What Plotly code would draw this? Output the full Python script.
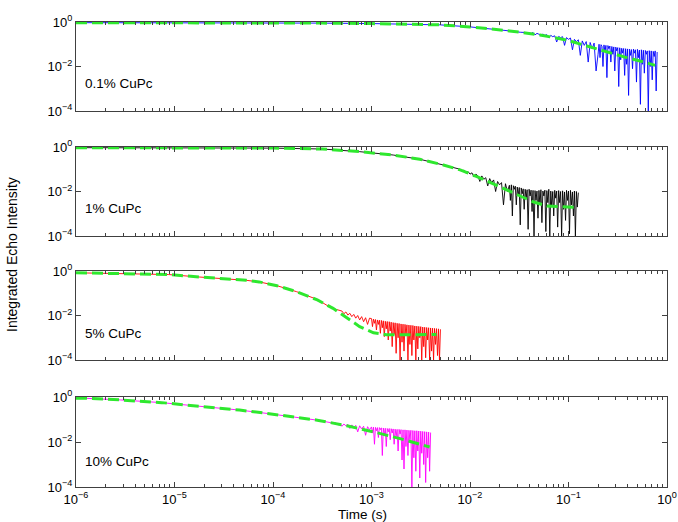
import numpy as np
import plotly.graph_objects as go

# ---------------- data (log10 units) ----------------
# Panel 1: 0.1% CuPc (blue)
blue_logt = [-6.0, -5.0, -4.0, -3.5, -3.0, -2.7, -2.3, -2.0, -1.8, -1.6, -1.49,
             -1.40, -1.38, -1.36, -1.34, -1.32, -1.30, -1.28, -1.26, -1.24, -1.22,
             -1.20, -1.18, -1.16, -1.14, -1.12, -1.10, -1.08, -1.06, -1.04, -1.02,
             -1.00, -0.98, -0.96, -0.94, -0.92, -0.90, -0.88, -0.86, -0.84, -0.82,
             -0.80, -0.78, -0.76, -0.74, -0.72,
             -0.70, -0.69, -0.68, -0.67, -0.66, -0.65, -0.64, -0.63, -0.62, -0.61,
             -0.60, -0.59, -0.58, -0.57, -0.56, -0.55, -0.54, -0.53, -0.52, -0.51,
             -0.50, -0.49, -0.48, -0.47, -0.46, -0.45, -0.44, -0.43, -0.42, -0.41,
             -0.40, -0.39, -0.38, -0.37, -0.36, -0.35, -0.34, -0.33, -0.32, -0.31,
             -0.30, -0.29, -0.28, -0.27, -0.26, -0.25, -0.24, -0.23, -0.22, -0.21,
             -0.20, -0.19, -0.18, -0.17, -0.16, -0.15, -0.14, -0.13, -0.12, -0.11,
             -0.10]
blue_logv = [-0.03, -0.03, -0.04, -0.05, -0.07, -0.09, -0.13, -0.22, -0.30, -0.40, -0.46,
             -0.48, -0.52, -0.47, -0.58, -0.51, -0.55, -0.62, -0.54, -0.60, -0.57,
             -0.72, -0.60, -0.66, -0.62, -0.90, -0.65, -0.70, -0.66, -1.05, -0.70,
             -0.78, -0.72, -1.25, -0.78, -0.88, -0.80, -1.50, -0.85, -1.05, -0.88,
             -1.80, -0.92, -1.20, -0.95, -2.20,
             -1.45, -1.00, -1.60, -1.02, -1.10, -2.00, -1.03, -1.35, -1.05, -2.50,
             -1.06, -1.20, -1.08, -1.80, -1.10, -1.45, -1.12, -2.20, -1.13, -1.30,
             -1.15, -2.90, -1.16, -1.70, -1.18, -1.40, -1.19, -2.40, -1.20, -1.90,
             -1.21, -3.30, -1.22, -1.50, -1.24, -2.10, -1.22, -1.40, -1.25, -2.70,
             -1.23, -1.60, -1.26, -3.70, -1.25, -1.90, -1.27, -2.30, -1.28, -1.45,
             -1.30, -4.00, -1.29, -2.00, -1.30, -2.60, -1.32, -1.55, -1.30, -3.10,
             -1.35]
blue_fit_logt = [-6.0, -5.0, -4.0, -3.5, -3.0, -2.7, -2.3, -2.0, -1.8, -1.6, -1.49,
                 -1.29, -1.02, -0.81, -0.61, -0.41, -0.20, -0.12]
blue_fit_logv = [-0.03, -0.03, -0.04, -0.05, -0.07, -0.09, -0.13, -0.22, -0.30, -0.40, -0.46,
                 -0.58, -0.81, -1.08, -1.36, -1.60, -1.84, -1.95]

# Panel 2: 1% CuPc (black)
black_logt = [-6.0, -5.0, -4.0, -3.5, -3.12, -2.78, -2.51, -2.27,
              -2.10, -2.08, -2.06, -2.04, -2.02, -2.00, -1.98, -1.96, -1.94, -1.92,
              -1.90, -1.88, -1.86, -1.84, -1.82, -1.80, -1.78, -1.76, -1.74, -1.72,
              -1.70, -1.68, -1.66, -1.64, -1.62,
              -1.60, -1.59, -1.58, -1.57, -1.56, -1.55, -1.54, -1.53, -1.52, -1.51,
              -1.50, -1.49, -1.48, -1.47, -1.46, -1.45, -1.44, -1.43, -1.42, -1.41,
              -1.40, -1.39, -1.38, -1.37, -1.36, -1.35, -1.34, -1.33, -1.32, -1.31,
              -1.30, -1.29, -1.28, -1.27, -1.26, -1.25, -1.24, -1.23, -1.22, -1.21,
              -1.20, -1.19, -1.18, -1.17, -1.16, -1.15, -1.14, -1.13, -1.12, -1.11,
              -1.10, -1.09, -1.08, -1.07, -1.06, -1.05, -1.04, -1.03, -1.02, -1.01,
              -1.00, -0.99, -0.98, -0.97, -0.96, -0.95, -0.94, -0.93, -0.92, -0.91,
              -0.90]
black_logv = [-0.03, -0.03, -0.05, -0.09, -0.21, -0.36, -0.55, -0.81,
              -1.00, -1.08, -1.04, -1.18, -1.10, -1.22, -1.16, -1.35, -1.22, -1.30,
              -1.55, -1.30, -1.45, -1.38, -1.75, -1.42, -1.60, -1.48, -2.00, -1.55,
              -1.70, -1.60, -2.60, -1.65, -2.00,
              -1.72, -2.40, -1.70, -3.10, -1.74, -1.90, -1.76, -2.60, -1.80, -2.20,
              -1.82, -3.50, -1.84, -2.10, -1.88, -2.80, -1.90, -2.30, -1.92, -3.70,
              -1.90, -2.20, -1.94, -2.90, -1.95, -4.00, -1.96, -2.40, -1.98, -3.20,
              -1.95, -2.60, -1.92, -3.40, -1.98, -2.20, -1.94, -3.80, -1.96, -2.50,
              -1.90, -4.00, -1.98, -2.70, -2.00, -3.10, -1.95, -2.30, -1.98, -3.60,
              -1.96, -2.50, -2.00, -4.00, -1.97, -2.80, -2.02, -3.30, -1.95, -2.40,
              -1.98, -3.90, -1.95, -2.60, -2.02, -3.10, -1.98, -4.00, -2.00, -2.70,
              -2.05]
black_fit_logt = [-6.0, -5.0, -4.0, -3.5, -3.12, -2.78, -2.51, -2.27, -2.10, -1.93,
                  -1.70, -1.52, -1.36, -1.22, -1.02, -0.91]
black_fit_logv = [-0.03, -0.03, -0.05, -0.09, -0.21, -0.36, -0.55, -0.81, -1.03, -1.33,
                  -1.78, -2.16, -2.46, -2.65, -2.68, -2.71]

# Panel 3: 5% CuPc (red)
red_logt = [-6.0, -5.06, -4.75, -4.48, -4.27, -4.14, -3.96, -3.76, -3.55, -3.45, -3.38,
            -3.30, -3.28, -3.26, -3.24, -3.22, -3.20, -3.18, -3.16, -3.14, -3.12,
            -3.10, -3.08, -3.06, -3.04, -3.02,
            -3.00, -2.99, -2.98, -2.97, -2.96, -2.95, -2.94, -2.93, -2.92, -2.91,
            -2.90, -2.89, -2.88, -2.87, -2.86, -2.85, -2.84, -2.83, -2.82, -2.81,
            -2.80, -2.79, -2.78, -2.77, -2.76, -2.75, -2.74, -2.73, -2.72, -2.71,
            -2.70, -2.69, -2.68, -2.67, -2.66, -2.65, -2.64, -2.63, -2.62, -2.61,
            -2.60, -2.59, -2.58, -2.57, -2.56, -2.55, -2.54, -2.53, -2.52, -2.51,
            -2.50, -2.49, -2.48, -2.47, -2.46, -2.45, -2.44, -2.43, -2.42, -2.41,
            -2.40, -2.39, -2.38, -2.37, -2.36, -2.35, -2.34, -2.33, -2.32, -2.31,
            -2.30]
red_logv = [-0.08, -0.16, -0.27, -0.34, -0.42, -0.49, -0.66, -0.93, -1.28, -1.55, -1.70,
            -1.80, -1.92, -1.84, -1.98, -1.90, -2.05, -1.95, -2.12, -2.00, -2.20,
            -2.05, -2.28, -2.10, -2.40, -2.12,
            -2.14, -2.50, -2.16, -2.35, -2.18, -2.65, -2.20, -2.40, -2.21, -2.80,
            -2.22, -2.55, -2.24, -2.95, -2.26, -2.60, -2.27, -3.10, -2.28, -2.70,
            -2.30, -3.40, -2.32, -2.85, -2.33, -3.70, -2.35, -3.00, -2.36, -4.00,
            -2.38, -3.20, -2.39, -3.60, -2.40, -2.90, -2.42, -4.00, -2.43, -3.30,
            -2.44, -3.80, -2.45, -3.10, -2.47, -4.00, -2.48, -3.50, -2.49, -3.00,
            -2.50, -4.00, -2.52, -3.40, -2.53, -3.90, -2.54, -3.10, -2.55, -4.00,
            -2.56, -3.60, -2.57, -4.00, -2.58, -3.30, -2.59, -3.80, -2.60, -4.00,
            -2.62]
red_fit_logt = [-6.0, -5.06, -4.75, -4.48, -4.27, -4.14, -3.96, -3.76, -3.55, -3.39,
                -3.25, -3.12, -2.98, -2.85, -2.70, -2.50, -2.34]
red_fit_logv = [-0.08, -0.16, -0.27, -0.34, -0.42, -0.49, -0.66, -0.93, -1.30, -1.68,
                -2.12, -2.50, -2.78, -2.86, -2.87, -2.87, -2.85]

# Panel 4: 10% CuPc (magenta)
mag_logt = [-6.0, -5.89, -5.55, -5.28, -5.13, -4.87, -4.61, -4.34, -4.06, -3.80, -3.55, -3.39,
            -3.36, -3.34, -3.32, -3.30, -3.28, -3.26, -3.24, -3.22, -3.20, -3.18,
            -3.16, -3.14, -3.12, -3.10, -3.08, -3.06, -3.04, -3.02, -3.00,
            -2.99, -2.98, -2.97, -2.96, -2.95, -2.94, -2.93, -2.92, -2.91, -2.90,
            -2.89, -2.88, -2.87, -2.86, -2.85, -2.84, -2.83, -2.82, -2.81, -2.80,
            -2.79, -2.78, -2.77, -2.76, -2.75, -2.74, -2.73, -2.72, -2.71, -2.70,
            -2.69, -2.68, -2.67, -2.66, -2.65, -2.64, -2.63, -2.62, -2.61, -2.60,
            -2.59, -2.58, -2.57, -2.56, -2.55, -2.54, -2.53, -2.52, -2.51, -2.50,
            -2.49, -2.48, -2.47, -2.46, -2.45, -2.44, -2.43, -2.42, -2.41, -2.40]
mag_logv = [-0.06, -0.06, -0.13, -0.19, -0.25, -0.36, -0.46, -0.58, -0.73, -0.88, -1.03, -1.16,
            -1.15, -1.25, -1.17, -1.30, -1.20, -1.28, -1.22, -1.40, -1.24, -1.35,
            -1.26, -1.55, -1.28, -1.42, -1.30, -1.70, -1.32, -1.45, -1.33,
            -1.60, -1.34, -2.10, -1.35, -1.50, -1.36, -1.80, -1.36, -1.45, -1.37,
            -2.60, -1.38, -1.70, -1.39, -2.20, -1.40, -1.55, -1.40, -1.90, -1.41,
            -1.60, -1.42, -2.10, -1.43, -1.75, -1.44, -2.40, -1.44, -1.65, -1.45,
            -2.80, -1.46, -3.20, -1.46, -2.20, -1.47, -2.60, -1.48, -1.90, -1.48,
            -4.00, -1.49, -2.70, -1.50, -3.30, -1.50, -2.40, -1.51, -3.60, -1.52,
            -2.50, -1.53, -3.00, -1.54, -3.80, -1.55, -2.70, -1.56, -3.30, -1.58]
mag_fit_logt = [-6.0, -5.89, -5.55, -5.28, -5.13, -4.87, -4.61, -4.34, -4.06, -3.80,
                -3.55, -3.39, -3.25, -2.98, -2.71, -2.41]
mag_fit_logv = [-0.06, -0.06, -0.13, -0.19, -0.25, -0.36, -0.46, -0.58, -0.73, -0.88,
                -1.03, -1.16, -1.28, -1.55, -1.85, -2.22]

panel_labels = ["0.1% CuPc", "1% CuPc", "5% CuPc", "10% CuPc"]
data_colors = ["#0000ff", "#000000", "#ff0000", "#ff00ff"]
fit_color = "#2ee82e"

x_tickvals = [1e-6, 1e-5, 1e-4, 1e-3, 1e-2, 1e-1, 1e0]
x_ticktext = ["10<sup>−6</sup>", "10<sup>−5</sup>", "10<sup>−4</sup>", "10<sup>−3</sup>",
              "10<sup>−2</sup>", "10<sup>−1</sup>", "10<sup>0</sup>"]
y_tickvals = [1e0, 1e-2, 1e-4]
y_ticktext = ["10<sup>0</sup>", "10<sup>−2</sup>", "10<sup>−4</sup>"]

x_title = "Time (s)"
y_title = "Integrated Echo Intensity"

# ---------------- figure ----------------
series = [
    (blue_logt, blue_logv, blue_fit_logt, blue_fit_logv),
    (black_logt, black_logv, black_fit_logt, black_fit_logv),
    (red_logt, red_logv, red_fit_logt, red_fit_logv),
    (mag_logt, mag_logv, mag_fit_logt, mag_fit_logv),
]

W, H = 678, 522
ML, MR, MT, MB = 76, 11, 22, 35
ph = H - MT - MB
panel_px = [(22, 111), (147, 236), (271, 360), (397, 487)]
label_px_y = [84, 209, 333, 461]

def py(p):
    return 1 - (p - MT) / ph

minor_vals = [m * 10.0 ** e for e in range(-6, 0) for m in range(2, 10)]
axis_col = "#404040"
FONT = "Liberation Sans, Arial, sans-serif"
tick_font = dict(family=FONT, size=13, color="black")

fig = go.Figure()
layout = dict(
    width=W, height=H,
    margin=dict(l=ML, r=MR, t=MT, b=MB, autoexpand=False),
    paper_bgcolor="white", plot_bgcolor="white",
    showlegend=False,
    font=dict(family=FONT, size=13, color="black"),
)

annotations = []
for i, (lt, lv, ft, fv) in enumerate(series):
    xa = "x" if i == 0 else f"x{i+1}"
    ya = "y" if i == 0 else f"y{i+1}"
    fig.add_trace(go.Scatter(
        x=np.power(10.0, lt), y=np.power(10.0, lv), mode="lines",
        line=dict(color=data_colors[i], width=0.9), xaxis=xa, yaxis=ya))
    fig.add_trace(go.Scatter(
        x=np.power(10.0, ft), y=np.power(10.0, fv), mode="lines",
        line=dict(color=fit_color, width=3, dash="11px,5px"), xaxis=xa, yaxis=ya))
    top, bot = panel_px[i]
    xk = "xaxis" if i == 0 else f"xaxis{i+1}"
    yk = "yaxis" if i == 0 else f"yaxis{i+1}"
    layout[xk] = dict(
        type="log", range=[-6, 0], domain=[0, 1], anchor=ya, automargin=False,
        tickmode="array", tickvals=x_tickvals, ticktext=x_ticktext,
        showticklabels=(i == 3), tickfont=tick_font, ticklabeloverflow="allow",
        ticks="inside", ticklen=5, tickcolor=axis_col, tickwidth=1,
        minor=dict(tickmode="array", tickvals=minor_vals, ticks="inside",
                   ticklen=3, tickcolor=axis_col, tickwidth=1, showgrid=False),
        showline=True, linecolor=axis_col, linewidth=1, mirror="ticks",
        showgrid=False, zeroline=False,
    )
    layout[yk] = dict(
        type="log", range=[-4, 0], domain=[py(bot), py(top)], anchor=xa, automargin=False,
        tickmode="array", tickvals=y_tickvals, ticktext=y_ticktext,
        tickfont=tick_font, ticklabeloverflow="allow",
        ticks="inside", ticklen=5, tickcolor=axis_col, tickwidth=1,
        showline=True, linecolor=axis_col, linewidth=1, mirror="ticks",
        showgrid=False, zeroline=False,
    )
    annotations.append(dict(
        text=panel_labels[i], xref="paper", yref="paper",
        x=(83 - ML) / (W - ML - MR), y=py(label_px_y[i]),
        xanchor="left", yanchor="middle", showarrow=False,
        font=dict(family=FONT, size=13.5, color="black")))

annotations.append(dict(
    text=x_title, xref="paper", yref="paper",
    x=(362 - ML) / (W - ML - MR), y=py(514), xanchor="center", yanchor="middle",
    showarrow=False, font=dict(family=FONT, size=13.5, color="black")))
annotations.append(dict(
    text=y_title, xref="paper", yref="paper", textangle=-90,
    x=(12 - ML) / (W - ML - MR), y=py(255), xanchor="center", yanchor="middle",
    showarrow=False, font=dict(family=FONT, size=14, color="black")))
layout["annotations"] = annotations

fig.update_layout(**layout)
fig.write_html("out.html", config={"displayModeBar": False},
               post_script="document.body.style.margin='0';")
